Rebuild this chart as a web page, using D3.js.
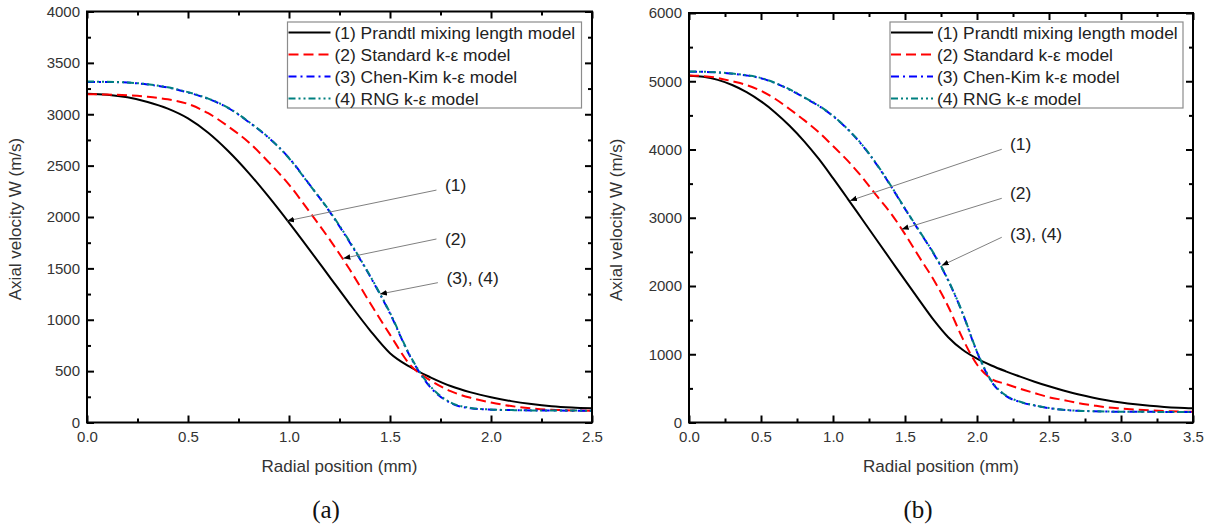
<!DOCTYPE html>
<html>
<head>
<meta charset="utf-8">
<script src="https://cdn.jsdelivr.net/npm/d3@7"></script>
<style>
    body { margin: 0; background: #fff; }
    svg { display: block; }
    .tick-label { font-family: Arial, "Liberation Sans", sans-serif; font-size: 15px; fill: #333; }
    .axis-title { font-family: Arial, "Liberation Sans", sans-serif; font-size: 17px; fill: #333; }
    .legend-text { font-family: Arial, "Liberation Sans", sans-serif; font-size: 17.4px; fill: #222; }
    .panel-label { font-family: "Times New Roman", "Liberation Serif", serif; font-size: 25px; fill: #111; }
</style>
</head>
<body>
<svg id="chart" width="1212" height="526"></svg>
<script>
// ---- panel (a) data ----
const radialA = [0, 0.1, 0.2, 0.3, 0.4, 0.5, 0.6, 0.7, 0.8, 0.9, 1.0, 1.1, 1.2, 1.3,
    1.4, 1.5, 1.6, 1.7, 1.8, 1.9, 2.0, 2.1, 2.2, 2.3, 2.4, 2.5];
const prandtlA = [3200, 3190, 3165, 3120, 3055, 2960, 2820, 2640, 2430, 2195, 1945, 1685, 1420, 1155,
    900, 675, 540, 440, 355, 293, 246, 208, 180, 159, 146, 138];
const standardA = [3195, 3192, 3184, 3170, 3145, 3100, 3010, 2880, 2728, 2532, 2315, 2055, 1784, 1491,
    1168, 855, 560, 410, 305, 240, 195, 160, 138, 124, 118, 115];
const chenKimA = [3315, 3314, 3308, 3290, 3260, 3212, 3150, 3060, 2925, 2770, 2575, 2320, 2055, 1755,
    1427, 1061, 641, 343, 190, 138, 125, 121, 118, 117, 115, 115];
const rngA = [3318, 3316, 3309, 3292, 3262, 3215, 3152, 3062, 2928, 2772, 2572, 2318, 2060, 1762,
    1432, 1068, 648, 352, 195, 142, 126, 121, 118, 117, 116, 115];

// ---- panel (b) data ----
const radialB = [0, 0.1, 0.2, 0.3, 0.4, 0.5, 0.6, 0.7, 0.8, 0.9, 1.0, 1.1, 1.2, 1.3, 1.4, 1.5, 1.6, 1.7,
    1.8, 1.9, 2.0, 2.1, 2.2, 2.3, 2.4, 2.5, 2.6, 2.7, 2.8, 2.9, 3.0, 3.1, 3.2, 3.3, 3.4, 3.5];
const prandtlB = [5080, 5065, 5020, 4945, 4840, 4705, 4540, 4345, 4120, 3865, 3580, 3285, 2985, 2685, 2385, 2085, 1790, 1500,
    1250, 1065, 935, 835, 750, 672, 598, 530, 468, 413, 366, 326, 293, 266, 244, 227, 215, 207];
const standardB = [5085, 5075, 5048, 5000, 4945, 4860, 4740, 4590, 4430, 4255, 4050, 3840, 3600, 3330, 3070, 2760, 2420, 2088,
    1700, 1232, 850, 640, 565, 494, 431, 370, 329, 287, 254, 223, 205, 190, 178, 168, 161, 157];
const chenKimB = [5140, 5138, 5128, 5110, 5085, 5045, 4970, 4875, 4760, 4640, 4490, 4300, 4070, 3790, 3470, 3130, 2800, 2470,
    2080, 1600, 1030, 600, 390, 300, 250, 210, 185, 172, 165, 160, 158, 157, 156, 155, 155, 155];
const rngB = [5142, 5140, 5130, 5112, 5088, 5048, 4974, 4880, 4764, 4644, 4494, 4304, 4076, 3796, 3476, 3136, 2806, 2476,
    2088, 1606, 1040, 610, 398, 305, 252, 212, 187, 173, 166, 161, 158, 157, 156, 155, 155, 155];

const legendLabels = ["(1) Prandtl mixing length model", "(2) Standard k-\u03b5 model",
    "(3) Chen-Kim k-\u03b5 model", "(4) RNG k-\u03b5 model"];
const xTitle = "Radial position (mm)";
const yTitle = "Axial velocity W (m/s)";

const xTicksA = [0, 0.5, 1.0, 1.5, 2.0, 2.5];
const yTicksA = [0, 500, 1000, 1500, 2000, 2500, 3000, 3500, 4000];
const xTicksB = [0, 0.5, 1.0, 1.5, 2.0, 2.5, 3.0, 3.5];
const yTicksB = [0, 1000, 2000, 3000, 4000, 5000, 6000];

// callouts: label, text anchor, line start, arrow tip (data units)
const calloutsA = [
    { label: "(1)", text: [1.772, 2311], from: [1.73, 2262], to: [0.99, 1962] },
    { label: "(2)", text: [1.772, 1786], from: [1.73, 1786], to: [1.269, 1598] },
    { label: "(3), (4)", text: [1.78, 1406], from: [1.737, 1361], to: [1.45, 1250] }
];
const calloutsB = [
    { label: "(1)", text: [2.229, 4081], from: [2.172, 4003], to: [1.118, 3250] },
    { label: "(2)", text: [2.229, 3363], from: [2.172, 3285], to: [1.477, 2831] },
    { label: "(3), (4)", text: [2.229, 2762], from: [2.172, 2714], to: [1.755, 2300] }
];

const seriesStyle = [
    { color: "#000000", dash: null },
    { color: "#ff0000", dash: "10,5" },
    { color: "#0000ff", dash: "8,4,2,4" },
    { color: "#008080", dash: "7,3,2,3,2,3" }
];

const svg = d3.select("#chart");

const defs = svg.append("defs");
defs.append("marker")
    .attr("id", "arrow")
    .attr("viewBox", "0 0 10 10")
    .attr("refX", 10)
    .attr("refY", 5)
    .attr("markerWidth", 7)
    .attr("markerHeight", 7)
    .attr("markerUnits", "userSpaceOnUse")
    .attr("orient", "auto")
    .append("path")
    .attr("d", "M0,1 L10,5 L0,9 Z")
    .attr("fill", "#000");

function drawPanel(opt) {
    const g = svg.append("g");
    const x = d3.scaleLinear().domain(opt.xDomain).range([opt.left, opt.right]);
    const y = d3.scaleLinear().domain(opt.yDomain).range([opt.bottom, opt.top]);

    // curves
    const columns = [opt.prandtl, opt.standard, opt.chenKim, opt.rng];
    columns.forEach(function (vals, i) {
        const pts = opt.radial.map(function (r, j) { return [r, vals[j]]; });
        g.append("path")
            .datum(pts)
            .attr("fill", "none")
            .attr("stroke", seriesStyle[i].color)
            .attr("stroke-width", 2)
            .attr("stroke-dasharray", seriesStyle[i].dash)
            .attr("d", d3.line()
                .curve(d3.curveMonotoneX)
                .x(function (d) { return x(d[0]); })
                .y(function (d) { return y(d[1]); }));
    });

    // axes, ticks point inward on all four sides
    const xMinor = d3.range(0, opt.xDomain[1] + 0.001, 0.25).filter(function (v) { return Math.abs(v * 2 - Math.round(v * 2)) > 0.01; });
    const yMinor = d3.range(0, opt.yDomain[1], opt.yStep / 2).filter(function (v) { return v % opt.yStep !== 0; });

    function styleAxis(sel) {
        sel.select(".domain").remove();
        sel.selectAll(".tick line").attr("stroke", "#000").attr("stroke-width", 2);
        sel.selectAll(".tick text").attr("class", "tick-label").attr("font-size", null).attr("font-family", null).attr("fill", null);
    }

    g.append("g").attr("transform", `translate(0, ${opt.bottom})`)
        .call(d3.axisBottom(x).tickValues(opt.xTicks).tickSize(-7).tickPadding(9).tickFormat(d3.format(".1f")))
        .call(styleAxis);
    g.append("g").attr("transform", `translate(0, ${opt.bottom})`)
        .call(d3.axisBottom(x).tickValues(xMinor).tickSize(-4).tickFormat(""))
        .call(styleAxis);
    g.append("g").attr("transform", `translate(0, ${opt.top})`)
        .call(d3.axisTop(x).tickValues(opt.xTicks).tickSize(-7).tickFormat(""))
        .call(styleAxis);
    g.append("g").attr("transform", `translate(0, ${opt.top})`)
        .call(d3.axisTop(x).tickValues(xMinor).tickSize(-4).tickFormat(""))
        .call(styleAxis);

    g.append("g").attr("transform", `translate(${opt.left}, 0)`)
        .call(d3.axisLeft(y).tickValues(opt.yTicks).tickSize(-7).tickPadding(7).tickFormat(d3.format("d")))
        .call(styleAxis);
    g.append("g").attr("transform", `translate(${opt.left}, 0)`)
        .call(d3.axisLeft(y).tickValues(yMinor).tickSize(-4).tickFormat(""))
        .call(styleAxis);
    g.append("g").attr("transform", `translate(${opt.right}, 0)`)
        .call(d3.axisRight(y).tickValues(opt.yTicks).tickSize(-7).tickFormat(""))
        .call(styleAxis);
    g.append("g").attr("transform", `translate(${opt.right}, 0)`)
        .call(d3.axisRight(y).tickValues(yMinor).tickSize(-4).tickFormat(""))
        .call(styleAxis);

    g.append("rect")
        .attr("x", opt.left)
        .attr("y", opt.top)
        .attr("width", opt.right - opt.left)
        .attr("height", opt.bottom - opt.top)
        .attr("fill", "none")
        .attr("stroke", "#000")
        .attr("stroke-width", 2);

    // axis titles
    g.append("text")
        .attr("class", "axis-title")
        .attr("text-anchor", "middle")
        .attr("x", (opt.left + opt.right) / 2)
        .attr("y", 472)
        .text(xTitle);
    g.append("text")
        .attr("class", "axis-title")
        .attr("text-anchor", "middle")
        .attr("transform", `translate(${opt.yTitleX}, ${(opt.top + opt.bottom) / 2 + 2}) rotate(-90)`)
        .text(yTitle);

    g.append("text")
        .attr("class", "panel-label")
        .attr("text-anchor", "middle")
        .attr("x", opt.panelX)
        .attr("y", 518)
        .text(opt.panel);

    // callouts
    opt.callouts.forEach(function (c) {
        g.append("line")
            .attr("x1", x(c.from[0]))
            .attr("y1", y(c.from[1]))
            .attr("x2", x(c.to[0]))
            .attr("y2", y(c.to[1]))
            .attr("stroke", "#808080")
            .attr("stroke-width", 1)
            .attr("marker-end", "url(#arrow)");
        g.append("text")
            .attr("class", "legend-text")
            .attr("x", x(c.text[0]))
            .attr("y", y(c.text[1]) + 6)
            .text(c.label);
    });

    // legend
    const lg = g.append("g");
    lg.append("rect")
        .attr("x", opt.legendX)
        .attr("y", 22)
        .attr("width", opt.legendW)
        .attr("height", 86)
        .attr("fill", "#fff")
        .attr("stroke", "#8c8c8c")
        .attr("stroke-width", 1.2);
    legendLabels.forEach(function (label, i) {
        const rowY = 32.5 + i * 22;
        lg.append("line")
            .attr("x1", opt.legendX + 1)
            .attr("x2", opt.legendX + 43)
            .attr("y1", rowY)
            .attr("y2", rowY)
            .attr("stroke", seriesStyle[i].color)
            .attr("stroke-width", 2)
            .attr("stroke-dasharray", seriesStyle[i].dash);
        lg.append("text")
            .attr("class", "legend-text")
            .attr("x", opt.legendX + 47)
            .attr("y", rowY + 6)
            .text(label);
    });
}

drawPanel({
    radial: radialA, prandtl: prandtlA, standard: standardA, chenKim: chenKimA, rng: rngA,
    xDomain: [0, 2.5], yDomain: [0, 4000], xTicks: xTicksA, yTicks: yTicksA, yStep: 500,
    left: 87, right: 592, top: 11.5, bottom: 422.5,
    yTitleX: 21, panelX: 326, panel: "(a)",
    legendX: 287.5, legendW: 294,
    callouts: calloutsA
});

drawPanel({
    radial: radialB, prandtl: prandtlB, standard: standardB, chenKim: chenKimB, rng: rngB,
    xDomain: [0, 3.5], yDomain: [0, 6000], xTicks: xTicksB, yTicks: yTicksB, yStep: 1000,
    left: 689, right: 1193, top: 13, bottom: 422.5,
    yTitleX: 622, panelX: 918, panel: "(b)",
    legendX: 890, legendW: 293,
    callouts: calloutsB
});
</script>
</body>
</html>
